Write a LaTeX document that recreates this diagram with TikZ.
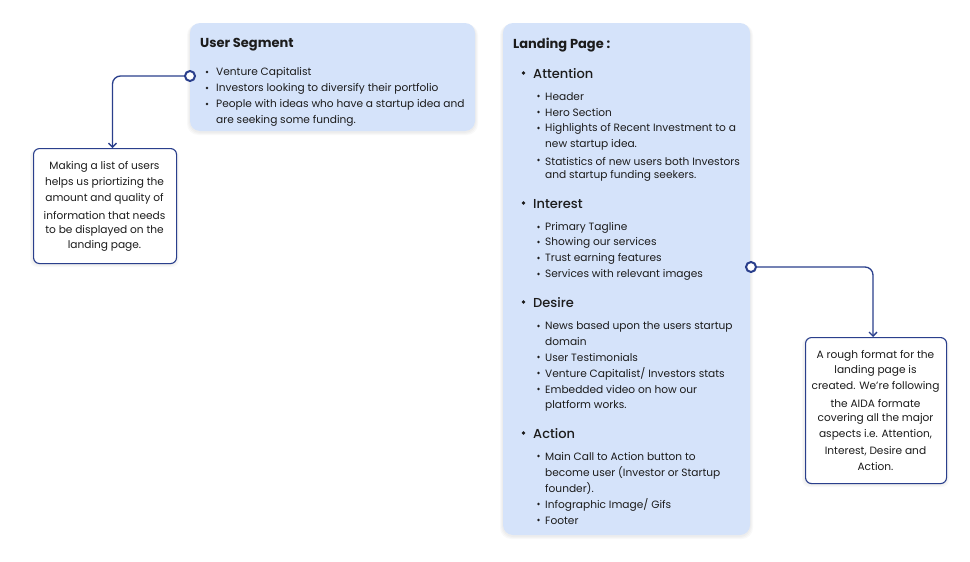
\documentclass[tikz,border=0pt]{standalone}
\usepackage{fontspec}
\setmainfont{Poppins}
\usetikzlibrary{arrows.meta}
\definecolor{boxblue}{HTML}{D5E3FA}
\definecolor{navy}{HTML}{2A3F8C}
\definecolor{txt}{HTML}{1C1C1C}
\tikzset{
  x=1pt,y=-1pt,
  card/.style={fill=boxblue,draw=none,rounded corners=10pt},
  note/.style={draw=navy,line width=1.1pt,fill=white,rounded corners=6pt},
  ttl/.style={anchor=west,inner sep=0pt,yshift=-1.5pt,text=txt,font=\fontsize{13}{15}\selectfont\bfseries},
  head/.style={anchor=west,inner sep=0pt,yshift=-1pt,text=txt,font=\fontsize{13}{15}\selectfont\fontspec{Poppins Medium}},
  item/.style={anchor=west,inner sep=0pt,yshift=-1pt,text=txt,font=\fontsize{10.6}{12}\selectfont},
  ntxt/.style={anchor=center,inner sep=0pt,yshift=-1pt,text=txt,font=\fontsize{10.6}{12}\selectfont},
  dot/.style={circle,fill=txt,inner sep=0pt,minimum size=2.6pt},
  bigdot/.style={circle,fill=txt,inner sep=0pt,minimum size=3.6pt},
  ring/.style={circle,draw=navy,line width=2pt,fill=white,inner sep=0pt,minimum size=10pt},
  link/.style={draw=navy,line width=1.3pt,rounded corners=8pt,-{Straight Barb[length=4pt,width=8pt]}},
}
\begin{document}
\begin{tikzpicture}
\useasboundingbox[fill=white] (0,0) rectangle (970,562);
% shadows
\foreach \o in {1,2,3}{
  \fill[black,opacity=0.025,rounded corners=11pt] (190-\o,24) rectangle (475+\o,132+\o);
  \fill[black,opacity=0.025,rounded corners=11pt] (503-\o,24) rectangle (750+\o,536+\o);
  \fill[black,opacity=0.025,rounded corners=7pt] (33-\o,149) rectangle (176+\o,264+\o);
  \fill[black,opacity=0.025,rounded corners=7pt] (805-\o,338) rectangle (946+\o,484+\o);
}
% cards
\path[card] (190,23) rectangle (475,131);
\path[card] (503,23) rectangle (750,535);
% User segment
\node[ttl] (us) at (200,43) {User Segment};
\foreach \y/\t/\n in {72/{Venture Capitalist}/u1, 88/{Investors looking to diversify their portfolio}/u2, 104/{People with ideas who have a startup idea and}/u3}{
  \node[dot] (\n d) at (207,\y) {};
  \node[item] (\n) at (216,\y) {\t};
}
\node[item] (u4) at (216,120) {are seeking some funding.};
% left note
\node[note,minimum width=143pt,minimum height=115pt,anchor=north west] (n1) at (33,148) {};
\foreach \y/\t/\n in {166/{Making a list of users}/a1,182/{helps us priortizing the}/a2,198/{amount and quality of}/a3,214/{information that needs}/a4,230/{to be displayed on the}/a5,245/{landing page.}/a6}{
  \node[ntxt] (\n) at (104.5,\y) {\t};
}
\node[ring] (r1) at (190,76) {};
\draw[link] (r1.west) -| (112.5,148);
% Landing page
\node[ttl] (lp) at (513,44) {Landing Page :};
\foreach \y/\t/\n in {73/Attention/h1,203/Interest/h2,302/Desire/h3,433/Action/h4}{
  \node[bigdot] (\n d) at (523.5,\y) {};
  \node[head] (\n) at (533,\y) {\t};
}
\foreach \y/\t/\n in {96/{Header}/s1,112/{Hero Section}/s2,128/{Highlights of Recent Investment to a}/s3,160/{Statistics of new users both Investors}/s4,
  227/{Primary Tagline}/s5,242/{Showing our services}/s6,258/{Trust earning features}/s7,274/{Services with relevant images}/s8,
  326/{News based upon the users startup}/s9,357/{User Testimonials}/s10,373/{Venture Capitalist/ Investors stats}/s11,389/{Embedded video on how our}/s12,
  456/{Main Call to Action button to}/s13,504/{Infographic Image/ Gifs}/s14,520/{Footer}/s15}{
  \node[dot] (\n d) at (538.5,\y) {};
  \node[item] (\n) at (545,\y) {\t};
}
\foreach \y/\t/\n in {144/{new startup idea.}/w1,175/{and startup funding seekers.}/w2,341/{domain}/w3,405/{platform works.}/w4,472/{become user (Investor or Startup}/w5,488/{founder).}/w6}{
  \node[item] (\n) at (545,\y) {\t};
}
% right note
\node[note,minimum width=141pt,minimum height=146pt,anchor=north west] (n2) at (805,337) {};
\foreach \y/\t/\n in {355/{A rough format for the}/b1,370/{landing page is}/b2,386/{created. We’re following}/b3,402/{the AIDA formate}/b4,418/{covering all the major}/b5,434/{aspects i.e. Attention,}/b6,450/{Interest, Desire and}/b7,466/{Action.}/b8}{
  \node[ntxt] (\n) at (875.5,\y) {\t};
}
\node[ring] (r2) at (751,267) {};
\draw[link] (r2.east) -| (873,337);
\end{tikzpicture}
\end{document}
